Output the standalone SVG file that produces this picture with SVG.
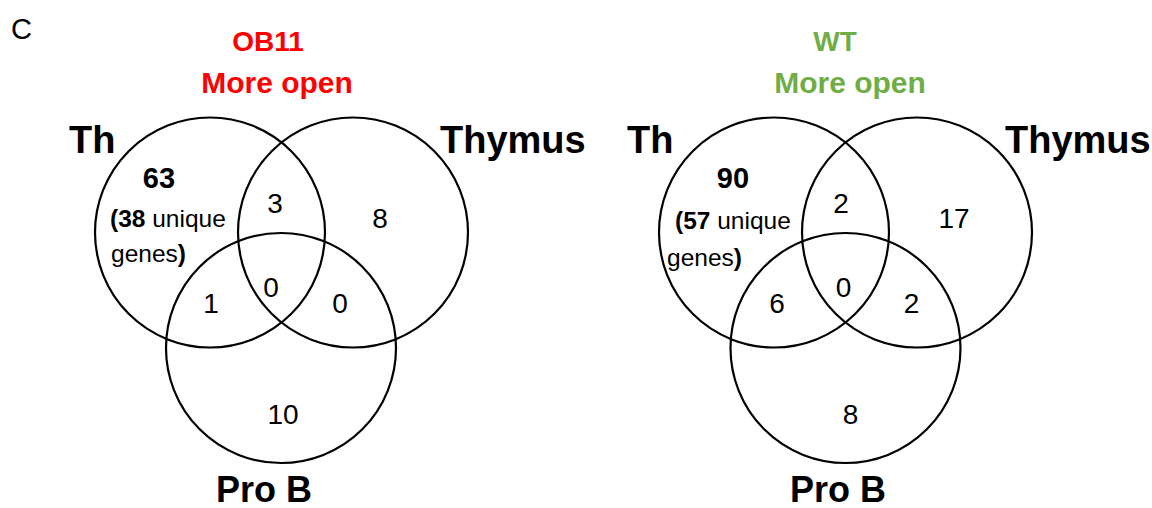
<svg xmlns="http://www.w3.org/2000/svg" width="1152" height="508" viewBox="0 0 1152 508">
<style>
text{font-family:"Liberation Sans",Arial,sans-serif;fill:#000}
.set{fill:none;stroke:#000;stroke-width:2.2}
.lbl{font-weight:bold;font-size:38px}
.pro{font-weight:bold;font-size:36px;text-anchor:middle}
.num{font-size:28px;text-anchor:middle}
.big{font-weight:bold;font-size:29px;text-anchor:middle}
.sm{font-size:24.5px}
.b{font-weight:bold}
.t1{font-weight:bold;font-size:28px;text-anchor:middle}
.t2{font-weight:bold;font-size:30px;text-anchor:middle}
.red{fill:#FF0000}
.green{fill:#70AD47}
</style>
<rect width="1152" height="508" fill="#fff"/>
<text x="11" y="39" font-size="29">C</text>

<g id="venn-ob11">
  <text class="t1 red" x="268" y="51">OB11</text>
  <text class="t2 red" x="277" y="93">More open</text>
  <g id="ob11-th">
    <ellipse class="set" cx="210" cy="232.5" rx="115" ry="115"/>
    <text class="lbl" x="69" y="153">Th</text>
  </g>
  <g id="ob11-thymus">
    <ellipse class="set" cx="353" cy="232.5" rx="115" ry="115"/>
    <text class="lbl" x="440" y="153">Thymus</text>
  </g>
  <g id="ob11-prob">
    <ellipse class="set" cx="281" cy="348" rx="115" ry="115"/>
    <text class="pro" x="264" y="502">Pro B</text>
  </g>
  <g id="ob11-counts">
    <text class="big" x="159" y="188">63</text>
    <text class="sm" x="110" y="227"><tspan class="b">(38</tspan> unique</text>
    <text class="sm" x="111" y="262">genes<tspan class="b">)</tspan></text>
    <text class="num" x="275" y="213">3</text>
    <text class="num" x="380" y="228">8</text>
    <text class="num" x="271" y="297">0</text>
    <text class="num" x="211" y="313">1</text>
    <text class="num" x="340" y="313">0</text>
    <text class="num" x="283" y="424">10</text>
  </g>
</g>

<g id="venn-wt">
  <text class="t1 green" x="835" y="51">WT</text>
  <text class="t2 green" x="850" y="93">More open</text>
  <g id="wt-th">
    <ellipse class="set" cx="774" cy="232.5" rx="115" ry="115"/>
    <text class="lbl" x="627" y="153">Th</text>
  </g>
  <g id="wt-thymus">
    <ellipse class="set" cx="917" cy="232.5" rx="115" ry="115"/>
    <text class="lbl" x="1005" y="153">Thymus</text>
  </g>
  <g id="wt-prob">
    <ellipse class="set" cx="845.5" cy="348" rx="115" ry="115"/>
    <text class="pro" x="838" y="502">Pro B</text>
  </g>
  <g id="wt-counts">
    <text class="big" x="733" y="188">90</text>
    <text class="sm" x="675" y="229"><tspan class="b">(57</tspan> unique</text>
    <text class="sm" x="667" y="266">genes<tspan class="b">)</tspan></text>
    <text class="num" x="841" y="213">2</text>
    <text class="num" x="954" y="228">17</text>
    <text class="num" x="843.5" y="297">0</text>
    <text class="num" x="777" y="313">6</text>
    <text class="num" x="911.5" y="313">2</text>
    <text class="num" x="850.5" y="424">8</text>
  </g>
</g>
</svg>
